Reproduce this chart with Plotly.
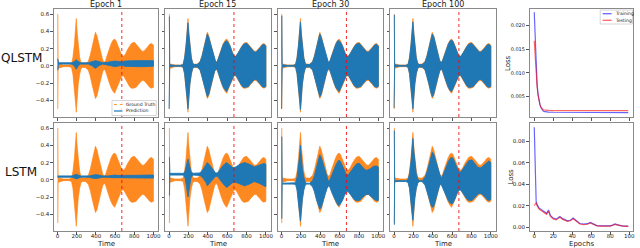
import plotly.graph_objects as go

# ---------------- data ----------------
time_pts = [0, 3, 6, 15, 60, 120, 145, 160, 175, 185,
            195, 205, 215, 230, 245, 260, 290, 320, 340, 360,
            380, 395, 410, 430, 450, 470, 485, 500, 520, 540,
            560, 580, 595, 610, 630, 650, 670, 690, 710, 730,
            750, 770, 790, 805, 820, 840, 860, 880, 900, 920,
            940, 960, 980, 1000]

# ground truth envelope (upper / lower)
gt_hi = [0.60, 0.60, 0.03, 0.02, 0.01, 0.01, 0.02, 0.10, 0.25, 0.40,
         0.55, 0.38, 0.22, 0.10, 0.03, 0.02, 0.02, 0.05, 0.12, 0.22,
         0.32, 0.39, 0.35, 0.26, 0.16, 0.07, 0.04, 0.06, 0.13, 0.20,
         0.26, 0.30, 0.31, 0.29, 0.24, 0.17, 0.12, 0.11, 0.14, 0.19,
         0.23, 0.26, 0.27, 0.27, 0.25, 0.22, 0.19, 0.17, 0.17, 0.19,
         0.22, 0.25, 0.26, 0.24]
gt_lo = [-0.50, -0.50, -0.03, -0.02, -0.01, -0.01, -0.02, -0.10, -0.25, -0.40,
         -0.54, -0.38, -0.22, -0.10, -0.03, -0.02, -0.02, -0.05, -0.12, -0.22,
         -0.32, -0.38, -0.35, -0.26, -0.16, -0.07, -0.04, -0.06, -0.13, -0.20,
         -0.26, -0.30, -0.32, -0.29, -0.24, -0.17, -0.12, -0.12, -0.15, -0.20,
         -0.24, -0.26, -0.26, -0.26, -0.25, -0.22, -0.19, -0.17, -0.17, -0.19,
         -0.22, -0.25, -0.26, -0.25]

# QLSTM predictions
q1_t = [0, 3, 10, 150, 175, 195, 215, 240, 320, 360, 395, 430, 470, 520,
        560, 595, 640, 670, 700, 750, 800, 850, 900, 950, 1000]
q1_hi = [0.08, 0.08, 0.035, 0.035, 0.05, 0.07, 0.05, 0.035, 0.035, 0.05, 0.06, 0.05,
         0.035, 0.04, 0.05, 0.055, 0.05, 0.045, 0.055, 0.06, 0.06, 0.06, 0.06, 0.06, 0.06]
q1_lo = [-0.05, -0.05, 0.02, 0.02, 0.0, -0.04, 0.0, 0.02, 0.02, 0.0, -0.03, 0.0,
         0.02, 0.01, 0.0, -0.01, 0.0, 0.005, -0.005, -0.01, -0.01, -0.01, -0.01, -0.01, -0.005]

q15_hi = [0.57, 0.57, 0.02, 0.01, 0.005, 0.005, 0.015, 0.09, 0.23, 0.37,
          0.50, 0.36, 0.21, 0.09, 0.025, 0.015, 0.015, 0.045, 0.11, 0.21,
          0.30, 0.37, 0.33, 0.25, 0.15, 0.065, 0.035, 0.055, 0.12, 0.19,
          0.25, 0.28, 0.29, 0.27, 0.23, 0.16, 0.11, 0.11, 0.14, 0.18,
          0.22, 0.25, 0.26, 0.26, 0.24, 0.21, 0.18, 0.16, 0.16, 0.18,
          0.21, 0.24, 0.25, 0.23]
q15_lo = [-0.50, -0.50, -0.02, -0.01, -0.005, -0.005, -0.015, -0.09, -0.23, -0.37,
          -0.50, -0.36, -0.21, -0.09, -0.025, -0.015, -0.015, -0.045, -0.11, -0.21,
          -0.30, -0.36, -0.33, -0.25, -0.15, -0.065, -0.035, -0.055, -0.12, -0.19,
          -0.25, -0.28, -0.30, -0.27, -0.23, -0.16, -0.11, -0.11, -0.14, -0.19,
          -0.23, -0.25, -0.25, -0.25, -0.24, -0.21, -0.18, -0.16, -0.16, -0.18,
          -0.21, -0.24, -0.25, -0.24]

q30_hi = [0.58, 0.58, 0.02, 0.01, 0.005, 0.005, 0.015, 0.09, 0.24, 0.38,
          0.51, 0.36, 0.21, 0.09, 0.025, 0.015, 0.015, 0.045, 0.11, 0.21,
          0.30, 0.37, 0.33, 0.25, 0.15, 0.065, 0.035, 0.055, 0.12, 0.19,
          0.25, 0.29, 0.29, 0.27, 0.23, 0.16, 0.11, 0.11, 0.14, 0.18,
          0.22, 0.25, 0.26, 0.26, 0.24, 0.21, 0.18, 0.16, 0.16, 0.18,
          0.21, 0.24, 0.25, 0.23]
q30_lo = [-0.50, -0.50, -0.02, -0.01, -0.005, -0.005, -0.015, -0.09, -0.24, -0.38,
          -0.51, -0.36, -0.21, -0.09, -0.025, -0.015, -0.015, -0.045, -0.11, -0.21,
          -0.30, -0.36, -0.33, -0.25, -0.15, -0.065, -0.035, -0.055, -0.12, -0.19,
          -0.25, -0.28, -0.30, -0.27, -0.23, -0.16, -0.11, -0.11, -0.14, -0.19,
          -0.23, -0.25, -0.25, -0.25, -0.24, -0.21, -0.18, -0.16, -0.16, -0.18,
          -0.21, -0.24, -0.25, -0.24]

q100_hi = [0.59, 0.59, 0.02, 0.01, 0.005, 0.005, 0.015, 0.09, 0.24, 0.38,
           0.51, 0.37, 0.21, 0.09, 0.025, 0.015, 0.015, 0.045, 0.11, 0.21,
           0.31, 0.37, 0.34, 0.25, 0.15, 0.065, 0.035, 0.055, 0.12, 0.19,
           0.25, 0.29, 0.30, 0.28, 0.23, 0.16, 0.11, 0.11, 0.14, 0.18,
           0.22, 0.25, 0.26, 0.26, 0.24, 0.21, 0.18, 0.16, 0.16, 0.18,
           0.21, 0.24, 0.25, 0.23]
q100_lo = [-0.49, -0.49, -0.02, -0.01, -0.005, -0.005, -0.015, -0.09, -0.24, -0.38,
           -0.50, -0.36, -0.21, -0.09, -0.025, -0.015, -0.015, -0.045, -0.11, -0.21,
           -0.31, -0.36, -0.33, -0.25, -0.15, -0.065, -0.035, -0.055, -0.12, -0.19,
           -0.25, -0.29, -0.30, -0.28, -0.23, -0.16, -0.11, -0.11, -0.14, -0.19,
           -0.23, -0.25, -0.25, -0.25, -0.24, -0.21, -0.18, -0.16, -0.16, -0.18,
           -0.21, -0.24, -0.25, -0.24]

# LSTM predictions
l1_t = [0, 10, 150, 175, 195, 215, 240, 330, 360, 395, 430, 470, 530, 560,
        595, 640, 670, 700, 750, 800, 850, 900, 950, 1000]
l1_hi = [0.045, 0.045, 0.045, 0.055, 0.065, 0.055, 0.045, 0.045, 0.055, 0.06, 0.055, 0.045,
         0.045, 0.05, 0.055, 0.05, 0.05, 0.05, 0.055, 0.055, 0.055, 0.055, 0.055, 0.055]
l1_lo = [0.03, 0.03, 0.03, 0.02, 0.01, 0.02, 0.03, 0.03, 0.02, 0.015, 0.02, 0.03,
         0.03, 0.025, 0.02, 0.025, 0.025, 0.025, 0.02, 0.02, 0.02, 0.02, 0.02, 0.02]

l15_t = [0, 3, 8, 150, 165, 180, 195, 210, 225, 245, 320, 350, 380, 395, 420, 450,
         480, 500, 530, 560, 595, 630, 660, 690, 730, 780, 830, 880, 930, 980, 1000]
l15_hi = [0.26, 0.26, 0.075, 0.075, 0.10, 0.17, 0.24, 0.17, 0.10, 0.075, 0.08, 0.12,
          0.17, 0.20, 0.17, 0.12, 0.08, 0.08, 0.12, 0.17, 0.20, 0.17, 0.14, 0.15,
          0.18, 0.20, 0.18, 0.15, 0.17, 0.19, 0.18]
l15_lo = [-0.18, -0.18, 0.055, 0.055, 0.02, -0.08, -0.20, -0.08, 0.02, 0.055, 0.05, 0.02,
          -0.03, -0.07, -0.04, 0.0, 0.04, 0.04, 0.0, -0.05, -0.09, -0.06, -0.03, -0.03,
          -0.05, -0.07, -0.05, -0.02, -0.04, -0.07, -0.08]

l30_hi = [0.50, 0.50, -0.04, -0.04, -0.04, -0.04, -0.035, 0.03, 0.15, 0.27,
          0.40, 0.26, 0.13, 0.03, -0.03, -0.04, -0.04, -0.01, 0.05, 0.14,
          0.22, 0.29, 0.26, 0.18, 0.09, 0.01, -0.02, 0.0, 0.06, 0.12,
          0.17, 0.21, 0.23, 0.21, 0.16, 0.10, 0.06, 0.06, 0.09, 0.13,
          0.16, 0.18, 0.19, 0.19, 0.17, 0.14, 0.12, 0.11, 0.12, 0.13,
          0.15, 0.16, 0.16, 0.15]
l30_lo = [-0.45, -0.45, -0.05, -0.05, -0.05, -0.05, -0.055, -0.12, -0.25, -0.38,
          -0.48, -0.36, -0.23, -0.12, -0.06, -0.05, -0.05, -0.08, -0.14, -0.23,
          -0.30, -0.34, -0.32, -0.25, -0.17, -0.10, -0.07, -0.09, -0.15, -0.20,
          -0.25, -0.29, -0.30, -0.28, -0.24, -0.18, -0.14, -0.14, -0.16, -0.20,
          -0.23, -0.24, -0.24, -0.24, -0.23, -0.20, -0.18, -0.17, -0.17, -0.19,
          -0.21, -0.23, -0.24, -0.24]

l100_hi = [0.57, 0.57, -0.01, -0.01, -0.01, -0.01, 0.0, 0.07, 0.21, 0.35,
           0.48, 0.33, 0.18, 0.07, 0.01, -0.01, -0.01, 0.03, 0.09, 0.18,
           0.27, 0.32, 0.30, 0.22, 0.13, 0.05, 0.02, 0.04, 0.10, 0.16,
           0.21, 0.25, 0.26, 0.25, 0.20, 0.14, 0.09, 0.09, 0.12, 0.16,
           0.19, 0.22, 0.23, 0.23, 0.21, 0.18, 0.15, 0.14, 0.14, 0.16,
           0.18, 0.21, 0.22, 0.20]
l100_lo = [-0.52, -0.52, -0.02, -0.02, -0.02, -0.02, -0.03, -0.10, -0.24, -0.37,
           -0.47, -0.35, -0.21, -0.10, -0.04, -0.02, -0.02, -0.06, -0.12, -0.21,
           -0.29, -0.32, -0.31, -0.24, -0.15, -0.07, -0.05, -0.07, -0.13, -0.19,
           -0.24, -0.27, -0.28, -0.27, -0.22, -0.16, -0.12, -0.12, -0.15, -0.19,
           -0.22, -0.24, -0.24, -0.24, -0.23, -0.20, -0.17, -0.16, -0.16, -0.18,
           -0.20, -0.23, -0.24, -0.23]

split_time = 670

# loss curves
q_epochs = [0, 1, 2, 3, 4, 5, 6, 7, 8, 9, 10, 12, 15, 20, 30, 40, 50, 60, 70, 80, 90, 99]
q_train = [0.0228, 0.0160, 0.0110, 0.0076, 0.0055, 0.0042, 0.0033, 0.0027, 0.0023, 0.0021,
           0.0019, 0.00180, 0.00175, 0.0017, 0.00168, 0.00166, 0.00165, 0.00165, 0.00164,
           0.00164, 0.00164, 0.00163]
q_test = [0.0168, 0.0130, 0.0096, 0.0071, 0.0053, 0.0041, 0.0033, 0.0028, 0.0025, 0.0023,
          0.0022, 0.00212, 0.00208, 0.00206, 0.00205, 0.00205, 0.00205, 0.00205, 0.00205,
          0.00205, 0.00205, 0.00205]

l_epochs = [0, 1, 2, 3, 5, 8, 11, 13, 15, 17, 20, 23, 27, 30, 35, 38, 41, 44, 48, 52,
            56, 59, 62, 66, 70, 75, 80, 83, 85, 88, 92, 96, 99]
l_train = [0.093, 0.040, 0.024, 0.021, 0.018, 0.016, 0.014, 0.013, 0.016, 0.011, 0.0085,
           0.0075, 0.0100, 0.008, 0.0060, 0.0065, 0.0085, 0.0060, 0.0035, 0.0030, 0.0033,
           0.0045, 0.0030, 0.0015, 0.0012, 0.0012, 0.0013, 0.0022, 0.0030, 0.0022, 0.0012,
           0.0010, 0.0010]
l_test = [0.020, 0.022, 0.023, 0.020, 0.017, 0.015, 0.013, 0.012, 0.015, 0.010, 0.0078,
          0.0068, 0.0092, 0.0073, 0.0055, 0.0060, 0.0078, 0.0055, 0.0030, 0.0025, 0.0028,
          0.0040, 0.0026, 0.0012, 0.0010, 0.0010, 0.0011, 0.0018, 0.0026, 0.0019, 0.0010,
          0.0008, 0.0008]

epoch_titles = ["Epoch 1", "Epoch 15", "Epoch 30", "Epoch 100"]
row_names = ["QLSTM", "LSTM"]
time_ticks = [0, 200, 400, 600, 800, 1000]
sig_ticks = [-0.4, -0.2, 0.0, 0.2, 0.4, 0.6]
epoch_ticks = [0, 20, 40, 60, 80, 100]
loss_ticks_q = [0.005, 0.010, 0.015, 0.020]
loss_ticks_l = [0.00, 0.02, 0.04, 0.06, 0.08]

preds = [
    [(q1_t, q1_hi, q1_lo), (time_pts, q15_hi, q15_lo), (time_pts, q30_hi, q30_lo), (time_pts, q100_hi, q100_lo)],
    [(l1_t, l1_hi, l1_lo), (l15_t, l15_hi, l15_lo), (time_pts, l30_hi, l30_lo), (time_pts, l100_hi, l100_lo)],
]
losses = [(q_epochs, q_train, q_test), (l_epochs, l_train, l_test)]

# ---------------- layout helpers ----------------
W, H = 640, 248
FONT = "DejaVu Sans"
BLUE = "#1f77b4"
FRAME = "#8a8a8a"
TXT = "#1a1a1a"

def fx(p):
    return p / W

def fy(p):
    return 1 - p / H

col_px = [(54, 159), (166, 272), (279, 385), (392, 498), (532, 636)]
row_px = [(9, 117), (123, 231)]

fig = go.Figure()
layout = dict(width=W, height=H, margin=dict(l=0, r=0, t=0, b=0),
              paper_bgcolor="white", plot_bgcolor="white", showlegend=False,
              font=dict(family=FONT, color=TXT))
shapes = []
annotations = []

def band(t, hi, lo):
    return list(t) + list(t)[::-1], list(hi) + list(lo)[::-1]

def label(text, xpx, ypx, size, angle=0, anchor="center"):
    annotations.append(dict(text=text, xref="paper", yref="paper", x=fx(xpx), y=fy(ypx),
                            xanchor=anchor, yanchor="middle", showarrow=False, textangle=angle,
                            font=dict(size=size, family=FONT, color=TXT)))

for r in range(2):
    for c in range(5):
        idx = r * 5 + c + 1
        xn = "x" if idx == 1 else f"x{idx}"
        yn = "y" if idx == 1 else f"y{idx}"
        xk = "xaxis" if idx == 1 else f"xaxis{idx}"
        yk = "yaxis" if idx == 1 else f"yaxis{idx}"
        x0, x1 = col_px[c]
        y0, y1 = row_px[r]
        common = dict(showline=True, mirror=True, linecolor=FRAME, linewidth=1,
                      ticks="outside", ticklen=2.5, tickwidth=0.8, tickcolor="#555",
                      showgrid=False, zeroline=False, fixedrange=True,
                      tickfont=dict(size=5.5, family=FONT, color=TXT))
        if c < 4:
            xs, ys = band(time_pts, gt_hi, gt_lo)
            fig.add_trace(go.Scatter(x=xs, y=ys, xaxis=xn, yaxis=yn, mode="lines",
                                     fill="toself", fillcolor="rgba(255,127,14,0.92)",
                                     line=dict(color="rgba(255,127,14,0.75)", width=0.8),
                                     hoverinfo="skip"))
            pt, ph, pl = preds[r][c]
            xs, ys = band(pt, ph, pl)
            fig.add_trace(go.Scatter(x=xs, y=ys, xaxis=xn, yaxis=yn, mode="lines",
                                     fill="toself", fillcolor=BLUE,
                                     line=dict(color=BLUE, width=0.9),
                                     hoverinfo="skip"))
            shapes.append(dict(type="line", xref=xn, yref=f"{yn} domain",
                               x0=split_time, x1=split_time, y0=0, y1=1,
                               line=dict(color="rgba(255,0,0,0.85)", width=1, dash="dot")))
            xax = dict(common, domain=[fx(x0), fx(x1)], anchor=yn, range=[-40, 1050],
                       tickvals=time_ticks, showticklabels=(r == 1), ticklabelstandoff=-3)
            yax = dict(common, domain=[fy(y1), fy(y0)], anchor=xn, range=[-0.595, 0.66],
                       tickvals=sig_ticks, tickformat=".1f", showticklabels=(c == 0))
            if r == 1:
                label("Time", (x0 + x1) / 2, 243.5, 7)
        else:
            ep, tr, te = losses[r]
            fig.add_trace(go.Scatter(x=ep, y=tr, xaxis=xn, yaxis=yn, mode="lines",
                                     line=dict(color="rgba(0,0,255,0.6)", width=1.2),
                                     hoverinfo="skip"))
            fig.add_trace(go.Scatter(x=ep, y=te, xaxis=xn, yaxis=yn, mode="lines",
                                     line=dict(color="rgba(255,0,0,0.6)", width=1.2),
                                     hoverinfo="skip"))
            xax = dict(common, domain=[fx(x0), fx(x1)], anchor=yn, range=[-5, 104],
                       tickvals=epoch_ticks, showticklabels=(r == 1), ticklabelstandoff=-3)
            if r == 1:
                label("Epochs", (x0 + x1) / 2, 243.5, 7)
            if r == 0:
                yax = dict(common, domain=[fy(y1), fy(y0)], anchor=xn, range=[0.0007, 0.0235],
                           tickvals=loss_ticks_q, tickformat=".3f")
                yax["tickfont"] = dict(size=5, family=FONT, color=TXT)
                label("Loss", 510.5, (y0 + y1) / 2, 7, angle=-90)
            else:
                yax = dict(common, domain=[fy(y1), fy(y0)], anchor=xn, range=[-0.0035, 0.097],
                           tickvals=loss_ticks_l, tickformat=".2f")
                label("Loss", 513, (y0 + y1) / 2, 7, angle=-90)
        layout[xk] = xax
        layout[yk] = yax

# column titles
for c, title in enumerate(epoch_titles):
    x0, x1 = col_px[c]
    label(title, (x0 + x1) / 2, 4.6, 8)
# row labels
for r, name in enumerate(row_names):
    annotations.append(dict(text=name, xref="paper", yref="paper", x=fx(21.5),
                            y=fy([57.8, 172][r]), xanchor="center", yanchor="middle",
                            showarrow=False, font=dict(size=12, family=FONT, color="#111")))

# legend: Ground Truth / Prediction (first panel)
shapes.append(dict(type="rect", xref="paper", yref="paper", x0=fx(112.5), x1=fx(157),
                   y0=fy(115.5), y1=fy(100.5), line=dict(color="#cccccc", width=0.8),
                   fillcolor="rgba(255,255,255,0.85)"))
leg1 = [("Ground Truth", "rgba(255,127,14,0.8)", "dot", 104.5),
        ("Prediction", BLUE, "solid", 111.0)]
for text, col, dash, ypx in leg1:
    shapes.append(dict(type="line", xref="paper", yref="paper", x0=fx(114.5), x1=fx(123),
                       y0=fy(ypx), y1=fy(ypx), line=dict(color=col, width=1.2, dash=dash)))
    label(text, 124.5, ypx, 4.5, anchor="left")

# legend: Training / Testing (top loss panel)
shapes.append(dict(type="rect", xref="paper", yref="paper", x0=fx(603), x1=fx(635.5),
                   y0=fy(24), y1=fy(10), line=dict(color="#cccccc", width=0.8),
                   fillcolor="rgba(255,255,255,0.85)"))
leg2 = [("Training", "rgba(0,0,255,0.6)", 13.7), ("Testing", "rgba(255,0,0,0.6)", 20.3)]
for text, col, ypx in leg2:
    shapes.append(dict(type="line", xref="paper", yref="paper", x0=fx(605.5), x1=fx(614.5),
                       y0=fy(ypx), y1=fy(ypx), line=dict(color=col, width=1.3)))
    label(text, 616, ypx, 4.5, anchor="left")

layout["shapes"] = shapes
layout["annotations"] = annotations
fig.update_layout(**layout)
fig.write_html("out.html", config={"displayModeBar": False},
               post_script="document.body.style.margin='0px';document.body.style.padding='0px';")
